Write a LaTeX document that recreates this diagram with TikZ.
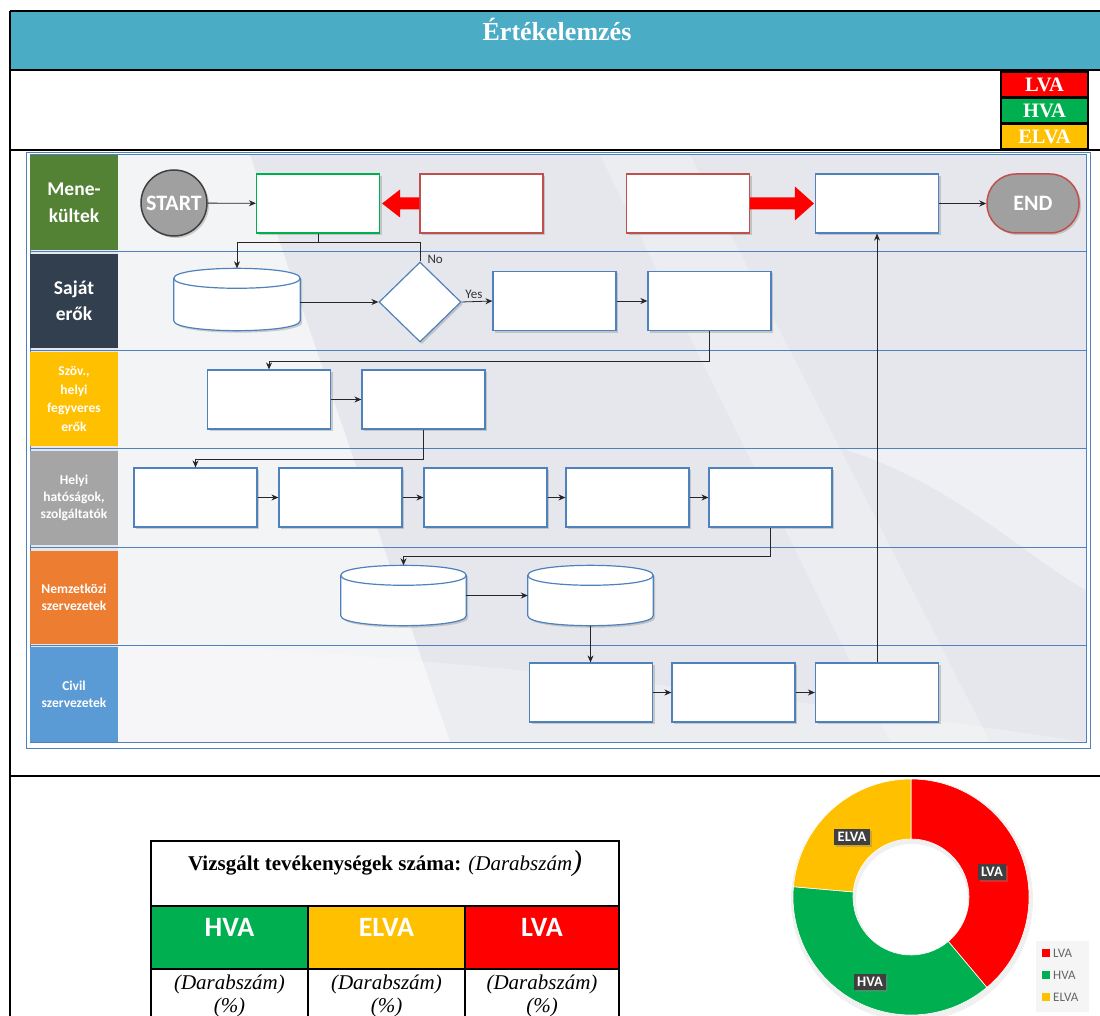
\documentclass[tikz,border=0pt]{standalone}
\usepackage{fontspec}
\setmainfont{Liberation Serif}
\newfontfamily\calfont{Carlito}
\usetikzlibrary{shadows,calc,arrows.meta,shapes.geometric}
\definecolor{titlebg}{HTML}{4BACC6}
\definecolor{lvared}{HTML}{FF0000}
\definecolor{hvagreen}{HTML}{00B050}
\definecolor{elvayel}{HTML}{FFC000}
\definecolor{boxblue}{HTML}{4F81BD}
\definecolor{lanegreen}{HTML}{548235}
\definecolor{lanenavy}{HTML}{323F4F}
\definecolor{lanegray}{HTML}{A5A5A5}
\definecolor{laneorange}{HTML}{ED7D31}
\definecolor{laneblue}{HTML}{5B9BD5}
\definecolor{flowbg}{HTML}{E5E7EC}
\definecolor{termgray}{HTML}{A0A0A0}
\definecolor{redline}{HTML}{C0504D}
\definecolor{labdark}{HTML}{404040}
\newcommand\fs[2]{\fontsize{#1}{#2}\selectfont}
\newcommand\drawcyl[1]{%
  \path[cylstyle] ($(#1.north west)+(0,10)$) -- ($(#1.south west)+(0,-10)$)
    .. controls +(0,13.3) and +(0,13.3) .. ($(#1.south east)+(0,-10)$)
    -- ($(#1.north east)+(0,10)$)
    .. controls +(0,-13.3) and +(0,-13.3) .. cycle;
  \draw[boxblue,line width=1.2pt] ($(#1.north west)+(0,10)$)
    .. controls +(0,13.3) and +(0,13.3) .. ($(#1.north east)+(0,10)$);}
\tikzset{
  tline/.style={black,line width=1.6pt},
  fbox/.style={draw=boxblue,line width=1.2pt,fill=white,minimum width=123pt,minimum height=59pt,inner sep=0pt,
    drop shadow={opacity=0.35,shadow xshift=2pt,shadow yshift=-2pt}},
  cylstyle/.style={draw=boxblue,line width=1.2pt,fill=white,drop shadow={opacity=0.35,shadow xshift=2pt,shadow yshift=-2pt}},
  cylnode/.style={minimum width=126pt,minimum height=62pt,inner sep=0pt},
  lane/.style={minimum width=88pt,inner sep=0pt,text=white,align=center,font=\calfont\bfseries},
  conn/.style={-{Stealth[length=7pt,width=6pt]},line width=0.8pt,black!85},
  plain/.style={line width=0.8pt,black!85},
  legbox/.style={draw=black,line width=1.4pt,minimum width=87pt,minimum height=25pt,inner sep=0pt,text=white,font=\fs{20.5}{22}\bfseries},
  cell/.style={draw=black,line width=1.4pt,minimum width=157pt,minimum height=63pt,inner sep=0pt,text depth=20pt,text=white,font=\calfont\fs{28}{30}\bfseries},
  pielab/.style={fill=labdark,text=white,font=\calfont\fs{14.5}{16}\bfseries,inner sep=3.5pt,drop shadow={opacity=0.4,shadow xshift=2pt,shadow yshift=-2pt}},
  legtext/.style={text=black!60,font=\calfont\fs{13}{14},anchor=west,inner sep=1pt}
}
\begin{document}
\begin{tikzpicture}[x=1pt,y=-1pt]
\useasboundingbox (0,0) rectangle (1100,1016);
\fill[white] (0,0) rectangle (1100,1016);
% ---------- outer table ----------
\fill[titlebg] (10,11) rectangle (1100,70);
\node[text=white,font=\fs{26}{28}\bfseries] (title) at (557,29) {Értékelemzés};
\draw[tline] (10,11) -- (1100,11);
\draw[tline] (10,70) -- (1100,70);
\draw[tline] (10,150) -- (1100,150);
\draw[tline] (10,776) -- (1100,776);
\draw[tline] (10,11) -- (10,1016);
\node[legbox,fill=lvared] (lgL) at (1044.5,84.5) {LVA};
\node[legbox,fill=hvagreen] (lgH) at (1044.5,110.5) {HVA};
\node[legbox,fill=elvayel] (lgE) at (1044.5,136.5) {ELVA};
% ---------- flowchart background ----------
\draw[boxblue,line width=1pt] (26,153) rectangle (1090,748);
\fill[flowbg] (30,155) rectangle (1086,742);
\fill[white,opacity=0.55] (118,155) -- (250,155) -- (450,742) -- (118,742) -- cycle;
\fill[white,opacity=0.25] (600,155) -- (690,155) -- (990,742) -- (890,742) -- cycle;
\fill[white,opacity=0.4] (840,448) .. controls (950,480) and (1030,560) .. (1086,590) -- (1086,448) -- cycle;
\fill[white,opacity=0.25] (118,640) .. controls (500,660) and (800,700) .. (1086,742) -- (118,742) -- cycle;
\draw[boxblue,line width=1pt] (30,155) rectangle (1086,742);
\foreach \yy in {252,350,448,547,645} \draw[boxblue,line width=1pt] (30,\yy) -- (1086,\yy);
% ---------- lane labels ----------
\node[lane,fill=lanegreen,minimum height=95pt,font=\calfont\bfseries\fs{19.5}{27}] (ln1) at (74,202.5) {Mene-\\kültek};
\node[lane,fill=lanenavy,minimum height=94pt,font=\calfont\bfseries\fs{19.5}{26}] (ln2) at (74,301) {Saját\\erők};
\node[lane,fill=elvayel,minimum height=94pt,font=\calfont\bfseries\fs{13.5}{18.5}] (ln3) at (74,399) {Szöv.,\\helyi\\fegyveres\\erők};
\node[lane,fill=lanegray,minimum height=94pt,font=\calfont\bfseries\fs{13.5}{17}] (ln4) at (74,498) {Helyi\\hatóságok,\\szolgáltatók};
\node[lane,fill=laneorange,minimum height=93pt,font=\calfont\bfseries\fs{13.5}{17}] (ln5) at (74,597) {Nemzetközi\\szervezetek};
\node[lane,fill=laneblue,minimum height=95pt,font=\calfont\bfseries\fs{13.5}{17}] (ln6) at (74,694.5) {Civil\\szervezetek};
% ---------- flow nodes ----------
\node[circle,draw=black!75,line width=1.5pt,fill=termgray,minimum size=66pt,inner sep=0pt,text=white,
  font=\calfont\bfseries\fs{22}{24},drop shadow={opacity=0.35,shadow xshift=2pt,shadow yshift=-2pt}] (start) at (174,203) {START};
\node[fbox,draw=hvagreen] (A) at (318,203.5) {};
\node[fbox,draw=redline] (B) at (481.5,203.5) {};
\node[fbox,draw=redline] (C) at (688,203.5) {};
\node[fbox] (D) at (877,203.5) {};
\node[rectangle,rounded corners=29pt,draw=redline,line width=1.5pt,fill=termgray,minimum width=92pt,minimum height=59pt,
  inner sep=0pt,text=white,font=\calfont\bfseries\fs{22}{24},drop shadow={opacity=0.35,shadow xshift=2pt,shadow yshift=-2pt}] (end) at (1033,203.5) {END};
\node[cylnode] (c1) at (237,299.5) {};
\drawcyl{c1}
\node[diamond,draw=boxblue,line width=1.2pt,fill=white,minimum width=82pt,minimum height=80pt,inner sep=0pt,
  drop shadow={opacity=0.35,shadow xshift=2pt,shadow yshift=-2pt}] (dia) at (420,302) {};
\node[fbox] (E) at (554.5,301) {};
\node[fbox] (F) at (709.5,301) {};
\node[fbox] (G) at (269,399.5) {};
\node[fbox] (H) at (423.5,399.5) {};
\node[fbox] (I) at (195.5,497.5) {};
\node[fbox] (J) at (340.5,497.5) {};
\node[fbox] (K) at (485.5,497.5) {};
\node[fbox] (L) at (627.5,497.5) {};
\node[fbox] (M) at (770.5,497.5) {};
\node[cylnode,minimum width=125pt,minimum height=60pt] (c2) at (403.5,595.5) {};
\drawcyl{c2}
\node[cylnode,minimum width=125pt,minimum height=60pt] (c3) at (590.5,595.5) {};
\drawcyl{c3}
\node[fbox] (N) at (591,692.5) {};
\node[fbox] (O) at (733.5,692.5) {};
\node[fbox] (P) at (877,692.5) {};
% ---------- red block arrows ----------
\fill[lvared] ($(B.west)+(0,-6)$) -- ($(A.east)+(20,-6)$) -- ($(A.east)+(20,-14)$) -- ($(A.east)+(2,0)$)
  -- ($(A.east)+(20,14)$) -- ($(A.east)+(20,6)$) -- ($(B.west)+(0,6)$) -- cycle;
\fill[lvared] ($(C.east)+(0,-6)$) -- ($(D.west)+(-20,-6)$) -- ($(D.west)+(-20,-17)$) -- ($(D.west)+(-1,0)$)
  -- ($(D.west)+(-20,17)$) -- ($(D.west)+(-20,6)$) -- ($(C.east)+(0,6)$) -- cycle;
% ---------- connectors ----------
\draw[conn] (start) -- (A);
\draw[conn] (D) -- (end);
\draw[conn] (A.south) -- ++(0,9) -| (c1.north);
\draw[plain] (A.south) -- ++(0,9) -| (dia.north);
\node[font=\calfont\fs{13}{14},text=black!80,anchor=west] (nolab) at (424,259) {No};
\draw[conn] (c1.east |- dia.west) -- (dia.west);
\draw[conn] (dia.east) -- (E.west) node[pos=0.4,above,font=\calfont\fs{13}{14},text=black!80,inner sep=3pt] (yeslab) {Yes};
\draw[conn] (E) -- (F);
\draw[conn] (F.south) -- ++(0,30) -| (G.north);
\draw[conn] (G) -- (H);
\draw[conn] (H.south) -- ++(0,30) -| (I.north);
\draw[conn] (I) -- (J);
\draw[conn] (J) -- (K);
\draw[conn] (K) -- (L);
\draw[conn] (L) -- (M);
\draw[conn] (M.south) -- ++(0,29) -| (c2.north);
\draw[conn] (c2) -- (c3);
\draw[conn] (c3.south) -- (c3.south |- N.north);
\draw[conn] (N) -- (O);
\draw[conn] (O) -- (P);
\draw[conn] (P.north) -- (D.south);
% ---------- summary table ----------
\node[draw=black,line width=1.4pt,fill=white,minimum width=468pt,minimum height=65pt,inner sep=0pt] (thead) at (385,873.5) {};
\node[font=\fs{21}{23}] (theadtxt) at (385,864) {\textbf{Vizsgált tevékenységek száma:} \textit{(Darabszám}{\fs{29}{29}\itshape )}};
\node[cell,fill=hvagreen] (tH) at (229.5,937.5) {HVA};
\node[cell,fill=elvayel] (tE) at (386.5,937.5) {ELVA};
\node[cell,fill=lvared,minimum width=154pt] (tL) at (542,937.5) {LVA};
\draw[tline] (151,969) -- (151,1016);
\draw[tline] (308,969) -- (308,1016);
\draw[tline] (465,969) -- (465,1016);
\draw[tline] (619,969) -- (619,1016);
\foreach \cx/\nm in {229.5/dH,386.5/dE,542/dL}
  \node[font=\itshape\fs{21}{23},align=center,anchor=north] (\nm) at (\cx,971) {(Darabszám)\\(\%)};
% ---------- donut chart ----------
\begin{scope}[shift={(911,897)},yscale=-1]
  \fill[black,opacity=0.06,even odd rule] (1,-3) circle (121) (1,-3) circle (56);
  \filldraw[fill=lvared,draw=white,line width=0.6pt] (90:118) arc[start angle=90,end angle=-50,radius=118] -- (-50:58) arc[start angle=-50,end angle=90,radius=58] -- cycle;
  \filldraw[fill=hvagreen,draw=white,line width=0.6pt] (-50:118) arc[start angle=-50,end angle=-185,radius=118] -- (-185:58) arc[start angle=-185,end angle=-50,radius=58] -- cycle;
  \filldraw[fill=elvayel,draw=white,line width=0.6pt] (-185:118) arc[start angle=-185,end angle=-270,radius=118] -- (-270:58) arc[start angle=-270,end angle=-185,radius=58] -- cycle;
\end{scope}
\node[pielab] (pE) at (852,837) {ELVA};
\node[pielab] (pL) at (992,872) {LVA};
\node[pielab] (pH) at (870,982) {HVA};
\fill[black!4] (1036,941) rectangle (1089,1012);
\fill[lvared] (1042,949) rectangle (1050,957);
\node[legtext] (lt1) at (1052,953) {LVA};
\fill[hvagreen] (1042,971) rectangle (1050,979);
\node[legtext] (lt2) at (1052,975) {HVA};
\fill[elvayel] (1042,993) rectangle (1050,1001);
\node[legtext] (lt3) at (1052,997) {ELVA};
\end{tikzpicture}
\end{document}
